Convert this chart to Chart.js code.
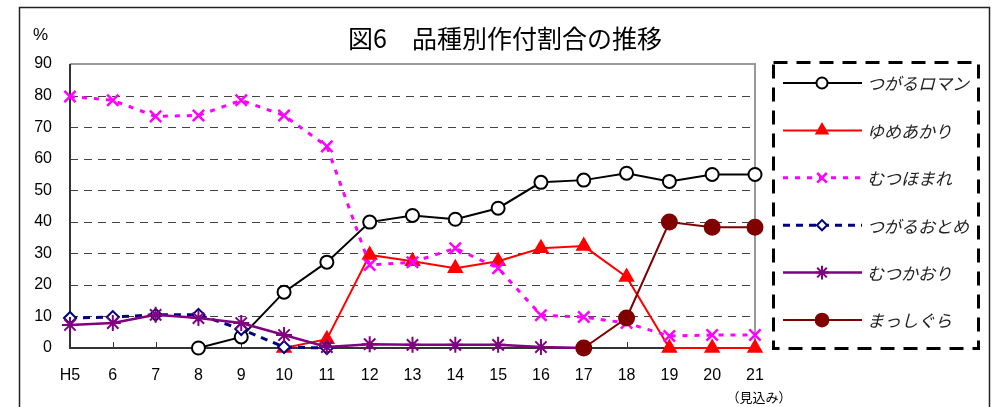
<!DOCTYPE html>
<html>
<head>
<meta charset="utf-8">
<script src="https://cdn.jsdelivr.net/npm/chart.js@4"></script>
<style>
  html, body { margin: 0; padding: 0; background: #fff; }
  #wrap { width: 995px; height: 407px; }
</style>
</head>
<body>
<div id="wrap"><canvas id="cropChart" width="995" height="407"></canvas></div>
<script>
// categories (Heisei years)
const years = ['H5', '6', '7', '8', '9', '10', '11', '12', '13', '14', '15', '16', '17', '18', '19', '20', '21'];
const yTicks = [0, 10, 20, 30, 40, 50, 60, 70, 80, 90];

// planting share (%) per variety
const tsugaruRoman = [null, null, null, 0, 3.5, 17.7, 27.2, 39.9, 42, 40.8, 44.3, 52.5, 53.2, 55.4, 52.8, 55, 55];
const yumeakari = [null, null, null, null, null, 0, 2.8, 29.5, 27.5, 25.3, 27.5, 31.6, 32.3, 22.5, 0, 0, 0];
const mutsuhomare = [79.7, 78.5, 73.4, 73.7, 78.5, 73.7, 63.9, 26.3, 27.2, 31.6, 25.3, 10.4, 9.8, 7.9, 3.8, 4.1, 4.1];
const tsugaruOtome = [9.5, 9.8, 10.5, 10.5, 6, 0.3, 0, null, null, null, null, null, null, null, null, null, null];
const mutsukaori = [7.3, 7.9, 10.5, 9.5, 7.9, 4.1, 0.3, 1.2, 1, 1, 1, 0.3, 0, null, null, null, null];
const masshigura = [null, null, null, null, null, null, null, null, null, null, null, null, 0, 9.5, 39.9, 38.3, 38.3];

const seriesNames = ['つがるロマン', 'ゆめあかり', 'むつほまれ', 'つがるおとめ', 'むつかおり', 'まっしぐら'];

const titleText = '図6　品種別作付割合の推移';
const unitText = '%';
const noteText = '（見込み）';

const jpFont = '"Noto Sans CJK JP", "Noto Sans", sans-serif';
const numFont = '"Liberation Sans", Arial, sans-serif';

// frame, title, gridlines, legend box
const decorPlugin = {
  id: 'decor',
  beforeDatasetsDraw(chart) {
    const ctx = chart.ctx;
    const a = chart.chartArea;
    const y = chart.scales.y;
    const x = chart.scales.x;
    ctx.save();
    // dashed horizontal gridlines
    ctx.strokeStyle = '#444';
    ctx.lineWidth = 1;
    ctx.setLineDash([8, 6]);
    yTicks.forEach(function(v) {
      if (v === 0 || v === 90) return;
      const py = Math.round(y.getPixelForValue(v)) + 0.5;
      ctx.beginPath();
      ctx.moveTo(a.left, py);
      ctx.lineTo(a.right, py);
      ctx.stroke();
    });
    ctx.setLineDash([]);
    // top and right frame
    ctx.strokeStyle = '#999';
    ctx.lineWidth = 2;
    ctx.beginPath();
    ctx.moveTo(a.left, a.top);
    ctx.lineTo(a.right, a.top);
    ctx.lineTo(a.right, a.bottom);
    ctx.stroke();
    // axes
    ctx.strokeStyle = '#333';
    ctx.beginPath();
    ctx.moveTo(a.left, a.top);
    ctx.lineTo(a.left, a.bottom);
    ctx.lineTo(a.right, a.bottom);
    ctx.stroke();
    // small inward ticks on category axis
    ctx.lineWidth = 1;
    years.forEach(function(c, i) {
      const px = Math.round(x.getPixelForValue(i)) + 0.5;
      ctx.beginPath();
      ctx.moveTo(px, a.bottom);
      ctx.lineTo(px, a.bottom - 6);
      ctx.stroke();
    });
    ctx.restore();
  },
  afterDraw(chart) {
    const ctx = chart.ctx;
    const x = chart.scales.x;
    ctx.save();
    // outer border
    ctx.strokeStyle = '#222';
    ctx.lineWidth = 1.5;
    ctx.strokeRect(19.5, 7.5, 970, 420);
    // title
    ctx.fillStyle = '#000';
    ctx.textBaseline = 'middle';
    ctx.textAlign = 'center';
    ctx.font = '25px ' + jpFont;
    ctx.fillText(titleText, 505, 38);
    // unit
    ctx.textAlign = 'left';
    ctx.font = '17px ' + numFont;
    ctx.fillText(unitText, 33, 35);
    // note under last category
    ctx.textAlign = 'center';
    ctx.font = '13px ' + jpFont;
    ctx.fillText(noteText, x.getPixelForValue(years.length - 1) + 4, 397);

    // legend box
    ctx.strokeStyle = '#000';
    ctx.lineWidth = 3;
    ctx.setLineDash([14, 9]);
    ctx.strokeRect(773.5, 62.5, 205, 286);
    ctx.setLineDash([]);

    chart.data.datasets.forEach(function(ds, i) {
      const ly = 83 + i * 47.4;
      ctx.strokeStyle = ds.borderColor;
      ctx.lineWidth = ds.borderWidth;
      ctx.setLineDash(ds.borderDash || []);
      ctx.beginPath();
      ctx.moveTo(783, ly);
      ctx.lineTo(862, ly);
      ctx.stroke();
      ctx.setLineDash([]);
      ctx.fillStyle = ds.pointBackgroundColor;
      ctx.strokeStyle = ds.pointBorderColor;
      ctx.lineWidth = ds.pointBorderWidth;
      Chart.helpers.drawPoint(ctx, {
        pointStyle: ds.pointStyle,
        rotation: 0,
        radius: ds.pointRadius * 0.85,
        borderWidth: ds.pointBorderWidth
      }, 822, ly);
      ctx.fillStyle = '#222';
      ctx.textAlign = 'left';
      ctx.textBaseline = 'middle';
      ctx.font = 'italic 17px ' + jpFont;
      ctx.fillText(ds.label, 867, ly + 1);
    });
    ctx.restore();
  }
};

function makeSeries(label, data, color, opts) {
  return Object.assign({
    label: label,
    data: data,
    borderColor: color,
    borderWidth: 2,
    pointBorderColor: color,
    pointBackgroundColor: color,
    pointBorderWidth: 2,
    pointRadius: 7,
    tension: 0,
    spanGaps: false,
    fill: false,
    clip: false
  }, opts);
}

new Chart(document.getElementById('cropChart'), {
  type: 'line',
  data: {
    labels: years,
    datasets: [
      makeSeries(seriesNames[0], tsugaruRoman, '#000000', { pointStyle: 'circle', pointBackgroundColor: '#fff', pointRadius: 6.5, order: 6 }),
      makeSeries(seriesNames[1], yumeakari, '#ff0000', { pointStyle: 'triangle', pointRadius: 7.5, order: 5 }),
      makeSeries(seriesNames[2], mutsuhomare, '#ff00ff', { borderDash: [5, 7], borderWidth: 3, pointStyle: 'crossRot', pointRadius: 8, pointBorderWidth: 2.5, order: 4 }),
      makeSeries(seriesNames[3], tsugaruOtome, '#000080', { borderDash: [7, 6], borderWidth: 3, pointStyle: 'rectRot', pointBackgroundColor: '#fff', pointRadius: 6, order: 3 }),
      makeSeries(seriesNames[4], mutsukaori, '#800080', { borderWidth: 2.5, pointStyle: 'star', pointRadius: 8, order: 2 }),
      makeSeries(seriesNames[5], masshigura, '#800000', { pointStyle: 'circle', pointRadius: 7.5, order: 1 })
    ]
  },
  options: {
    responsive: false,
    animation: false,
    layout: { padding: { left: 0, top: 64, right: 240, bottom: 0 } },
    plugins: { legend: { display: false }, tooltip: { enabled: false } },
    scales: {
      x: {
        offset: false,
        grid: { display: false, drawTicks: false, tickLength: 0 },
        border: { display: false },
        ticks: { color: '#000', font: { family: numFont, size: 16 }, padding: 18, maxRotation: 0, autoSkip: false },
        afterFit: function(scale) { scale.height = 59; }
      },
      y: {
        min: 0,
        max: 90,
        grid: { display: false, drawTicks: false, tickLength: 0 },
        border: { display: false },
        ticks: { stepSize: 10, color: '#000', font: { family: numFont, size: 16 }, padding: 18 },
        afterFit: function(scale) { scale.width = 70; }
      }
    }
  },
  plugins: [decorPlugin]
});
</script>
</body>
</html>
